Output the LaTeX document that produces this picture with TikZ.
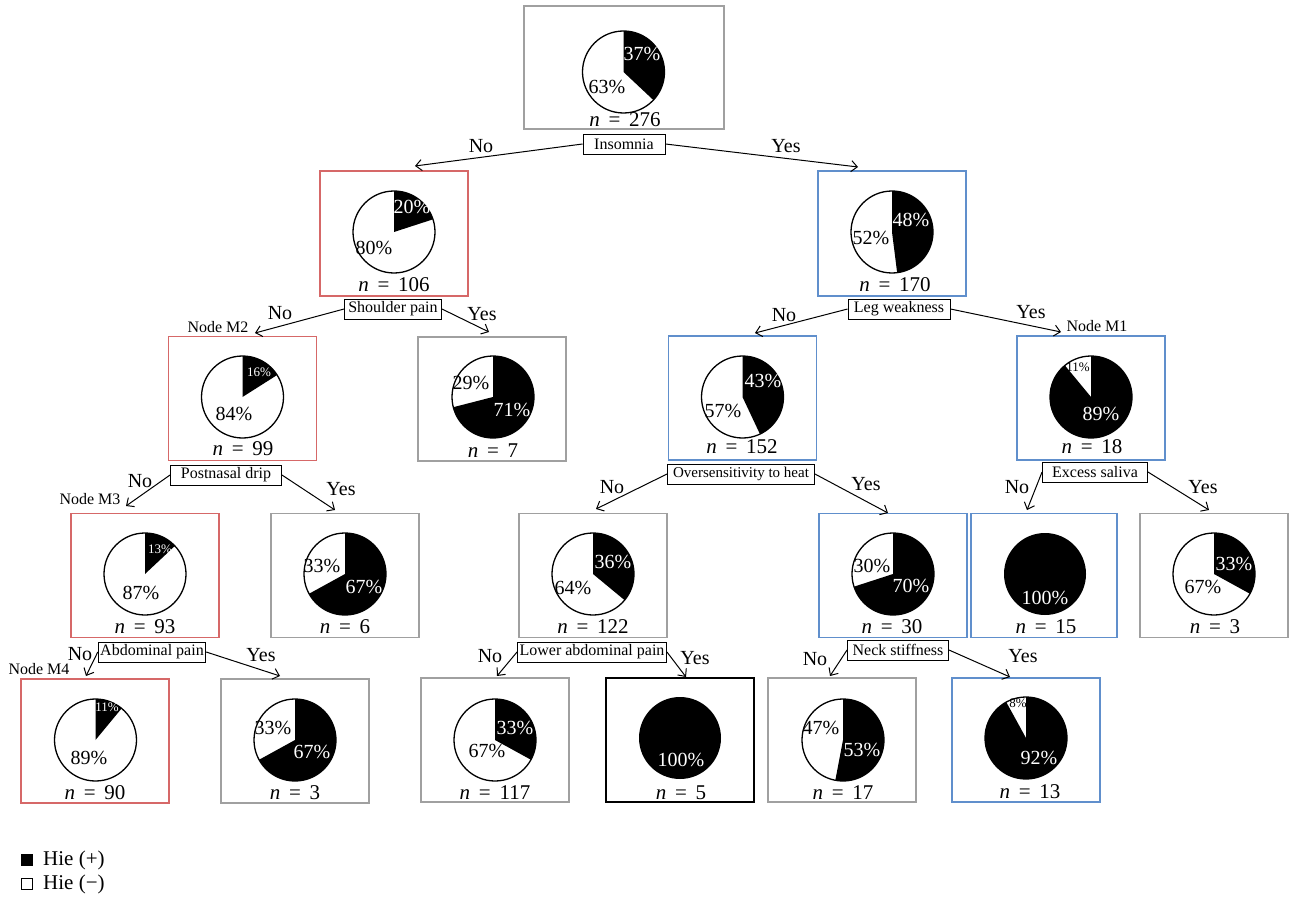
\documentclass[tikz,border=0pt]{standalone}
\usepackage{fontspec}
\setmainfont{Liberation Serif}
\usetikzlibrary{arrows.meta}

\definecolor{boxred}{RGB}{214,104,104}
\definecolor{boxblue}{RGB}{96,143,204}
\definecolor{boxgray}{RGB}{160,160,160}

% pie: centre x, centre y, share of Hie (+) in percent
\newcommand{\hiepie}[3]{%
  \fill[white] (#1,#2) circle[radius=41];
  \fill[black] (#1,#2) -- ++(0,-41) arc[start angle=-90, end angle={-90+3.6*#3}, radius=41] -- cycle;
  \draw[line width=1.3pt] (#1,#2) circle[radius=41];
}
% full pie (100 %)
\newcommand{\hiefull}[2]{%
  \fill[black] (#1,#2) circle[radius=41];
}

\begin{document}
\begin{tikzpicture}[x=1pt, y=-1pt,
  every node/.style={inner sep=0pt},
  leafbox/.style={draw=#1, line width=1.4pt, minimum width=148pt, minimum height=124pt},
  pctw/.style={text=white, font=\fontsize{20}{20}\selectfont},
  pctk/.style={font=\fontsize{20}{20}\selectfont},
  smw/.style={text=white, font=\fontsize{13}{13}\selectfont},
  smk/.style={font=\fontsize{13}{13}\selectfont},
  ncount/.style={font=\fontsize{21}{21}\selectfont},
  split/.style={draw, fill=white, line width=0.9pt, font=\fontsize{16}{16}\selectfont,
    inner xsep=2pt, minimum height=20pt},
  yesno/.style={font=\fontsize{20}{20}\selectfont},
  mlabel/.style={font=\fontsize{16}{16}\selectfont},
  branch/.style={line width=1pt, -{Straight Barb[length=6pt, width=11pt]}},
]
  \useasboundingbox (0,0) rectangle (1293,904);

  % ---- Kök: n = 276 ----
  \node[leafbox=boxgray, minimum width=200pt, minimum height=123pt] (root) at (624,67.5) {};
  \hiepie{623.5}{72}{37}
  \node[pctw] (root-b) at (642,54) {37\%};
  \node[pctk] (root-w) at (607,87) {63\%};
  \node[ncount] (root-n) at (625,120) {\textit{n}\, = \,276};

  % ---- Düzey 1 ----
  \node[leafbox=boxred, minimum height=125pt] (insno) at (394,233.5) {};
  \hiepie{394}{232}{20}
  \node[pctw] (insno-b) at (412,207) {20\%};
  \node[pctk] (insno-w) at (374,248) {80\%};
  \node[ncount] (insno-n) at (394,285) {\textit{n}\, = \,106};

  \node[leafbox=boxblue, minimum height=125pt] (insyes) at (892,233.5) {};
  \hiepie{892}{232}{48}
  \node[pctw] (insyes-b) at (911,220) {48\%};
  \node[pctk] (insyes-w) at (871,238) {52\%};
  \node[ncount] (insyes-n) at (895,285) {\textit{n}\, = \,170};

  % ---- Düzey 2 ----
  \node[leafbox=boxred] (m2) at (242.5,398.5) {};
  \hiepie{242.5}{397}{16}
  \node[smw] (m2-b) at (259,372) {16\%};
  \node[pctk] (m2-w) at (234,414) {84\%};
  \node[ncount] (m2-n) at (243,449) {\textit{n}\, = \,99};

  \node[leafbox=boxgray] (shyes) at (492,399) {};
  \hiepie{493}{397}{71}
  \node[pctk] (shyes-w) at (471,383) {29\%};
  \node[pctw] (shyes-b) at (512,410) {71\%};
  \node[ncount] (shyes-n) at (493,451) {\textit{n}\, = \,7};

  \node[leafbox=boxblue] (lwno) at (742.5,398) {};
  \hiepie{742.5}{397}{43}
  \node[pctw] (lwno-b) at (763,381) {43\%};
  \node[pctk] (lwno-w) at (723,411) {57\%};
  \node[ncount] (lwno-n) at (742,447) {\textit{n}\, = \,152};

  \node[leafbox=boxblue] (m1) at (1091,398) {};
  \hiepie{1091}{397}{89}
  \node[smk] (m1-w) at (1078,367) {11\%};
  \node[pctw] (m1-b) at (1101,414) {89\%};
  \node[ncount] (m1-n) at (1092,447) {\textit{n}\, = \,18};

  % ---- Düzey 3 ----
  \node[leafbox=boxred] (m3) at (145,575.5) {};
  \hiepie{145}{574}{13}
  \node[smw] (m3-b) at (160,549) {13\%};
  \node[pctk] (m3-w) at (141,593) {87\%};
  \node[ncount] (m3-n) at (145,627) {\textit{n}\, = \,93};

  \node[leafbox=boxgray] (pnyes) at (345,575.5) {};
  \hiepie{345}{574}{67}
  \node[pctk] (pnyes-w) at (322,566) {33\%};
  \node[pctw] (pnyes-b) at (364,587) {67\%};
  \node[ncount] (pnyes-n) at (345,627) {\textit{n}\, = \,6};

  \node[leafbox=boxgray] (ovno) at (593,575.5) {};
  \hiepie{593}{574}{36}
  \node[pctw] (ovno-b) at (613,562) {36\%};
  \node[pctk] (ovno-w) at (573,588) {64\%};
  \node[ncount] (ovno-n) at (593,627) {\textit{n}\, = \,122};

  \node[leafbox=boxblue] (ovyes) at (893,575.5) {};
  \hiepie{893}{574}{70}
  \node[pctk] (ovyes-w) at (872,566) {30\%};
  \node[pctw] (ovyes-b) at (911,586) {70\%};
  \node[ncount] (ovyes-n) at (892,627) {\textit{n}\, = \,30};

  \node[leafbox=boxblue, minimum width=146pt] (exno) at (1044,575.5) {};
  \hiefull{1045}{574}
  \node[pctw] (exno-b) at (1045,598) {100\%};
  \node[ncount] (exno-n) at (1046,627) {\textit{n}\, = \,15};

  \node[leafbox=boxgray] (exyes) at (1214,575.5) {};
  \hiepie{1214}{574}{33}
  \node[pctw] (exyes-b) at (1234,564) {33\%};
  \node[pctk] (exyes-w) at (1203,587) {67\%};
  \node[ncount] (exyes-n) at (1215,627) {\textit{n}\, = \,3};

  % ---- Düzey 4 ----
  \node[leafbox=boxred] (m4) at (95,741) {};
  \hiepie{95.5}{740}{11}
  \node[smw] (m4-b) at (107,707) {11\%};
  \node[pctk] (m4-w) at (89,758) {89\%};
  \node[ncount] (m4-n) at (95,793) {\textit{n}\, = \,90};

  \node[leafbox=boxgray] (abyes) at (295,741) {};
  \hiepie{295}{740}{67}
  \node[pctk] (abyes-w) at (273,728) {33\%};
  \node[pctw] (abyes-b) at (312,752) {67\%};
  \node[ncount] (abyes-n) at (295,793) {\textit{n}\, = \,3};

  \node[leafbox=boxgray] (lano) at (495,740) {};
  \hiepie{495}{740}{33}
  \node[pctw] (lano-b) at (515,728) {33\%};
  \node[pctk] (lano-w) at (487,751) {67\%};
  \node[ncount] (lano-n) at (495,793) {\textit{n}\, = \,117};

  \node[leafbox=black] (layes) at (680,740) {};
  \hiefull{680}{738}
  \node[pctw] (layes-b) at (681,760) {100\%};
  \node[ncount] (layes-n) at (681,793) {\textit{n}\, = \,5};

  \node[leafbox=boxgray] (nkno) at (842,740) {};
  \hiepie{843}{740}{53}
  \node[pctk] (nkno-w) at (821,728) {47\%};
  \node[pctw] (nkno-b) at (862,750) {53\%};
  \node[ncount] (nkno-n) at (843,793) {\textit{n}\, = \,17};

  \node[leafbox=boxblue] (nkyes) at (1026,740) {};
  \hiepie{1026}{738}{92}
  \node[smk] (nkyes-w) at (1018,703) {8\%};
  \node[pctw] (nkyes-b) at (1039,758) {92\%};
  \node[ncount] (nkyes-n) at (1030,792) {\textit{n}\, = \,13};

  % Bölünme kutuları
  \node[split, minimum width=82pt] (s-ins) at (624,144) {Insomnia};
  \node[split, minimum width=97pt] (s-sh) at (393,309) {Shoulder pain};
  \node[split, minimum width=102pt] (s-lw) at (899,309) {Leg weakness};
  \node[split, minimum width=111pt] (s-pn) at (226,475) {Postnasal drip};
  \node[split, minimum width=147pt, font=\fontsize{15}{15}\selectfont] (s-ov) at (741,474) {Oversensitivity to heat};
  \node[split, minimum width=105pt] (s-ex) at (1095,472) {Excess saliva};
  \node[split, minimum width=107pt] (s-ab) at (152,652) {Abdominal pain};
  \node[split, minimum width=149pt] (s-la) at (592,652) {Lower abdominal pain};
  \node[split, minimum width=101pt] (s-nk) at (898,650) {Neck stiffness};

  % Ok uçları
  \coordinate (t-ins-no) at (415,166);  \coordinate (t-ins-yes) at (858,167);
  \coordinate (t-sh-no) at (255,333);   \coordinate (t-sh-yes) at (489,332);
  \coordinate (t-lw-no) at (755,333);   \coordinate (t-lw-yes) at (1061,332);
  \coordinate (t-pn-no) at (126,506);   \coordinate (t-pn-yes) at (335,510);
  \coordinate (t-ov-no) at (596,509);   \coordinate (t-ov-yes) at (888,513);
  \coordinate (t-ex-no) at (1027,510);  \coordinate (t-ex-yes) at (1209,510);
  \coordinate (t-ab-no) at (86,676);    \coordinate (t-ab-yes) at (280,676);
  \coordinate (t-la-no) at (497,676);   \coordinate (t-la-yes) at (686,677);
  \coordinate (t-nk-no) at (830,676);   \coordinate (t-nk-yes) at (1010,677);

  \draw[branch] (s-ins.west) -- (t-ins-no);  \draw[branch] (s-ins.east) -- (t-ins-yes);
  \draw[branch] (s-sh.west) -- (t-sh-no);    \draw[branch] (s-sh.east) -- (t-sh-yes);
  \draw[branch] (s-lw.west) -- (t-lw-no);    \draw[branch] (s-lw.east) -- (t-lw-yes);
  \draw[branch] (s-pn.west) -- (t-pn-no);    \draw[branch] (s-pn.east) -- (t-pn-yes);
  \draw[branch] (s-ov.west) -- (t-ov-no);    \draw[branch] (s-ov.east) -- (t-ov-yes);
  \draw[branch] (s-ex.west) -- (t-ex-no);    \draw[branch] (s-ex.east) -- (t-ex-yes);
  \draw[branch] (s-ab.west) -- (t-ab-no);    \draw[branch] (s-ab.east) -- (t-ab-yes);
  \draw[branch] (s-la.west) -- (t-la-no);    \draw[branch] (s-la.east) -- (t-la-yes);
  \draw[branch] (s-nk.west) -- (t-nk-no);    \draw[branch] (s-nk.east) -- (t-nk-yes);

  % Evet / Hayır
  \node[yesno] (y-ins-no) at (481,146) {No};   \node[yesno] (y-ins-yes) at (786,146) {Yes};
  \node[yesno] (y-sh-no) at (280,313) {No};    \node[yesno] (y-sh-yes) at (482,314) {Yes};
  \node[yesno] (y-lw-no) at (784,315) {No};    \node[yesno] (y-lw-yes) at (1031,312) {Yes};
  \node[yesno] (y-pn-no) at (140,481) {No};    \node[yesno] (y-pn-yes) at (341,489) {Yes};
  \node[yesno] (y-ov-no) at (612,487) {No};    \node[yesno] (y-ov-yes) at (866,484) {Yes};
  \node[yesno] (y-ex-no) at (1017,487) {No};   \node[yesno] (y-ex-yes) at (1203,487) {Yes};
  \node[yesno] (y-ab-no) at (80,654) {No};     \node[yesno] (y-ab-yes) at (261,655) {Yes};
  \node[yesno] (y-la-no) at (490,656) {No};    \node[yesno] (y-la-yes) at (695,658) {Yes};
  \node[yesno] (y-nk-no) at (815,659) {No};    \node[yesno] (y-nk-yes) at (1023,656) {Yes};

  % Düğüm adları
  \node[mlabel] (lab-m2) at (218,327) {Node M2};
  \node[mlabel] (lab-m1) at (1097,326) {Node M1};
  \node[mlabel] (lab-m3) at (90,499) {Node M3};
  \node[mlabel] (lab-m4) at (39,669) {Node M4};

  % Renk açıklaması
  \node[fill=black, minimum size=12pt] (key-pos) at (27,860) {};
  \node[draw, line width=0.9pt, minimum size=11pt] (key-neg) at (27,884) {};
  \node[anchor=west, font=\fontsize{21}{21}\selectfont] (key-pos-t) at (43,860) {Hie (+)};
  \node[anchor=west, font=\fontsize{21}{21}\selectfont] (key-neg-t) at (43,884) {Hie (−)};
\end{tikzpicture}
\end{document}
